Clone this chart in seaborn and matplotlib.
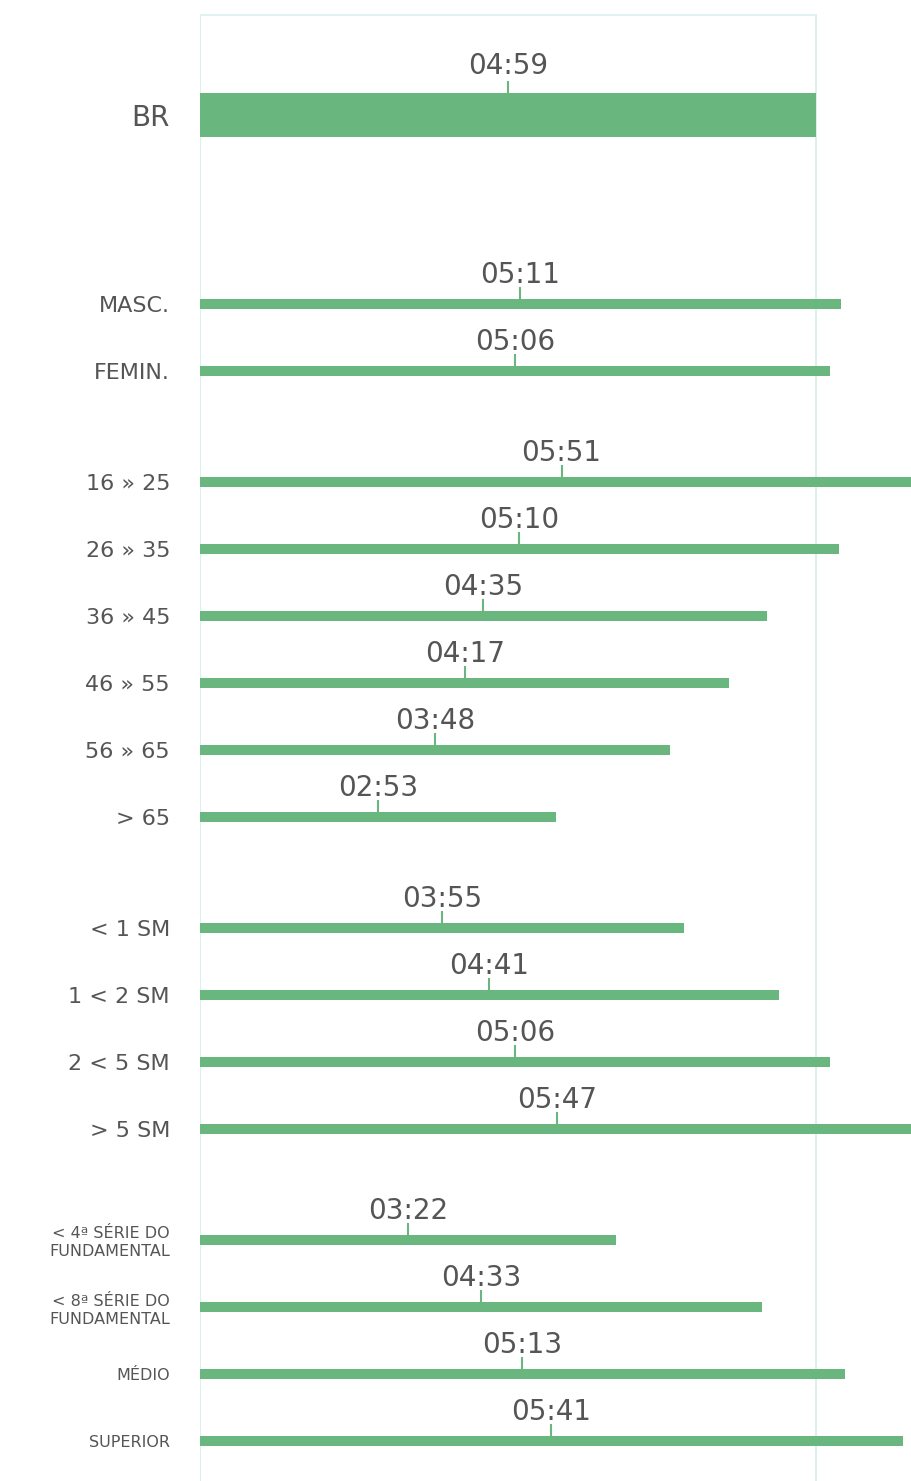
import pandas as pd
import seaborn as sns
import matplotlib.pyplot as plt

# tempo médio diário (hh:mm)
br_label = "BR"
br_time = "04:59"

labels = ["MASC.", "FEMIN.",
          "16 » 25", "26 » 35", "36 » 45", "46 » 55", "56 » 65", "> 65",
          "< 1 SM", "1 < 2 SM", "2 < 5 SM", "> 5 SM",
          "< 4ª SÉRIE DO\nFUNDAMENTAL", "< 8ª SÉRIE DO\nFUNDAMENTAL", "MÉDIO", "SUPERIOR"]
times = ["05:11", "05:06",
         "05:51", "05:10", "04:35", "04:17", "03:48", "02:53",
         "03:55", "04:41", "05:06", "05:47",
         "03:22", "04:33", "05:13", "05:41"]
groups = [0, 0,
          1, 1, 1, 1, 1, 1,
          2, 2, 2, 2,
          3, 3, 3, 3]

green = "#69b77f"
grey = "#555555"
frame = "#dcf0f0"


def to_min(t):
    h, m = t.split(":")
    return int(h) * 60 + int(m)


# layout in pixel units (y grows downward)
W, H = 911, 1481
x0 = 200
scale = 616 / to_min(br_time)
br_pos = 115
row, gap = 67, 44

df = pd.DataFrame({"label": labels, "time": times, "group": groups})
df["minutes"] = df["time"].map(to_min)
df["pos"] = [304 + row * i + gap * g for i, g in enumerate(df["group"])]

br = pd.DataFrame({"label": [br_label], "time": [br_time],
                   "minutes": [to_min(br_time)], "pos": [br_pos]})

fig = plt.figure(figsize=(W / 100, H / 100), dpi=100)
ax = fig.add_axes([x0 / W, 0, (W - x0) / W, 1])

# frame lines
ax.plot([0, 0], [15, H], color=frame, lw=1.5, zorder=0)
ax.plot([br["minutes"][0]] * 2, [15, H], color=frame, lw=1.5, zorder=0)
ax.plot([0, br["minutes"][0]], [15, 15], color=frame, lw=1.2, zorder=0)

sns.barplot(data=br, x="minutes", y="pos", orient="h", native_scale=True,
            width=44, color=green, saturation=1, errorbar=None, ax=ax, zorder=2)
sns.barplot(data=df, x="minutes", y="pos", orient="h", native_scale=True,
            width=10 / row, color=green, saturation=1, errorbar=None, ax=ax, zorder=2)

ax.set_xlim(0, (W - x0) / scale)
ax.set_ylim(H, 0)


def annotate(m, t, pos, half, gap_txt):
    top = pos - half
    ax.plot([m / 2, m / 2], [top, top - 11], color=green, lw=1.5, zorder=3)
    ax.text(m / 2, top - gap_txt, t, ha="center", va="baseline",
            fontsize=20, color=grey, zorder=3)


annotate(br["minutes"][0], br_time, br_pos, 22, 19)
for m, t, p in zip(df["minutes"], df["time"], df["pos"]):
    annotate(m, t, p, 5, 16)

ticks = [br_pos] + list(df["pos"])
ax.set_yticks(ticks, [br_label] + labels)
ax.tick_params(axis="y", length=0, pad=21.6, labelcolor=grey)
ax.set_xticks([])
ax.set_xlabel("")
ax.set_ylabel("")
for lab, g in zip(ax.get_yticklabels(), [None] + groups):
    if g is None:
        lab.set_fontsize(20)
    elif g == 3:
        lab.set_fontsize(11.5)
        lab.set_linespacing(1.25)
    else:
        lab.set_fontsize(16)
    lab.set_horizontalalignment("right")

for s in ax.spines.values():
    s.set_visible(False)

fig.savefig("out.png", dpi=100)
